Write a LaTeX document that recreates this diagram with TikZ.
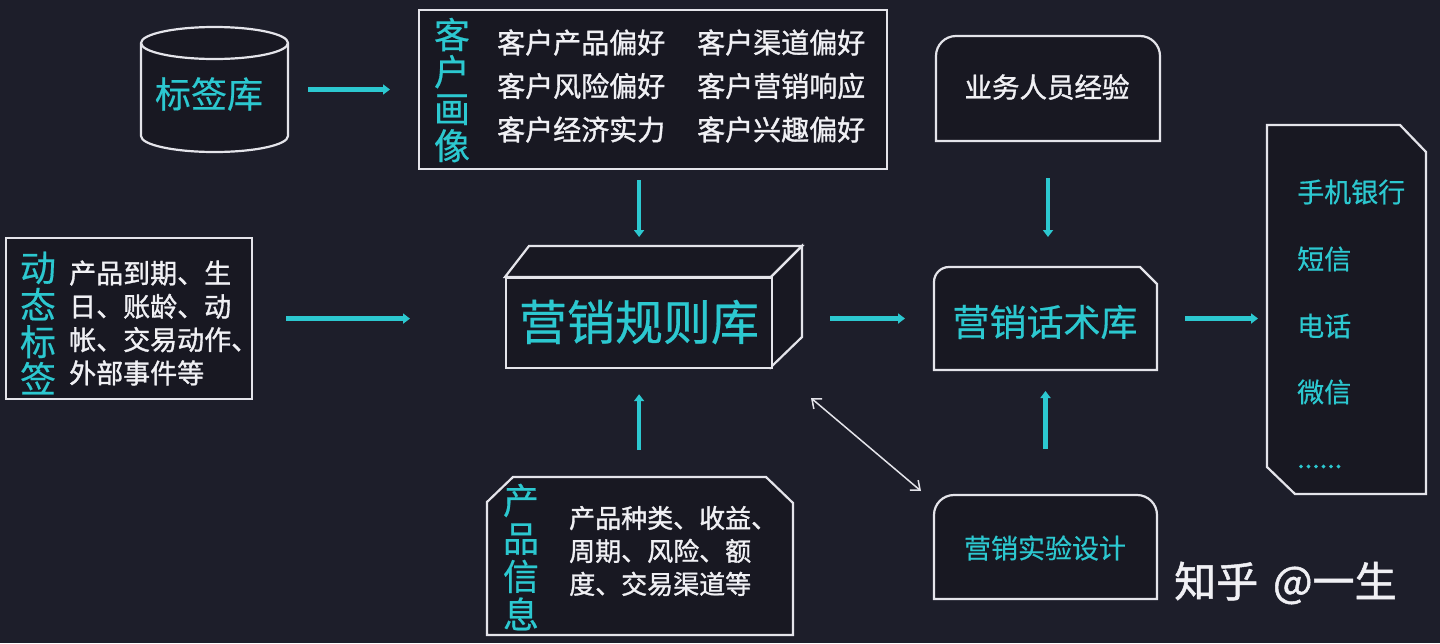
\documentclass[tikz,border=0pt]{standalone}
\usepackage{fontspec}
\setmainfont{Noto Sans CJK SC}
\newfontfamily\wfont{Noto Sans CJK SC}[FakeBold=1.2]
\newfontfamily\cfont{Noto Sans CJK SC}[FakeBold=0.4]
\usetikzlibrary{arrows.meta,calc}
\definecolor{bg}{RGB}{29,30,42}
\definecolor{boxfill}{RGB}{24,24,34}
\definecolor{cy}{RGB}{44,200,208}
\definecolor{edge}{RGB}{228,228,234}
\definecolor{wt}{RGB}{240,240,244}
\tikzset{
  outline/.style={draw=edge, line width=2.2pt, fill=boxfill},
  anchorbox/.style={draw=none, inner sep=0pt, outer sep=0pt},
  cytext/.style={text=cy, inner sep=0pt},
  wtext/.style={text=wt, inner sep=0pt},
  cyarrow/.style={draw=cy, line width=4.5pt, -{Triangle[length=7pt,width=10pt]}},
  dblarrow/.style={draw=edge, line width=1.5pt, {Straight Barb[length=8pt,width=13pt]}-{Straight Barb[length=8pt,width=13pt]}}
}
\newcommand{\fs}[2]{\fontsize{#1}{#2}\selectfont\cfont}
\newcommand{\fw}[2]{\fontsize{#1}{#2}\selectfont\wfont}
\begin{document}
\begin{tikzpicture}[x=1pt,y=-1pt]
\fill[bg] (0,0) rectangle (1440,643);
\useasboundingbox (0,0) rectangle (1440,643);

% ---------- cylinder 标签库
\draw[outline] (141,43) -- (141,136) arc[start angle=180,end angle=0,x radius=73.5,y radius=16]
  -- (288,43) arc[start angle=0,end angle=-180,x radius=73.5,y radius=16] -- cycle;
\draw[draw=edge, line width=2.2pt] (141,43) arc[start angle=180,end angle=0,x radius=73.5,y radius=16];
\node[anchorbox, minimum width=147pt, minimum height=125pt] (cyl) at (214.5,89.5) {};
\node[cytext, font=\fs{36}{36}] (cyltext) at (209,94) {标签库};

% ---------- 客户画像
\node[outline, anchor=north west, minimum width=468pt, minimum height=159pt] (portrait) at (418,9) {};
\node[cytext, font=\fs{36}{37}, align=center] (portraitv) at (452,90) {客\\户\\画\\像};
\node[wtext, anchor=west, align=left, font=\fw{28}{43.5}] (pcol1) at (497,86) {客户产品偏好\\客户风险偏好\\客户经济实力};
\node[wtext, anchor=west, align=left, font=\fw{28}{43.5}] (pcol2) at (697,86) {客户渠道偏好\\客户营销响应\\客户兴趣偏好};

% ---------- 动态标签
\node[outline, anchor=north west, minimum width=246pt, minimum height=161pt] (dyn) at (5,237) {};
\node[cytext, font=\fs{36}{37}, align=center] (dynv) at (38,323) {动\\态\\标\\签};
\node[wtext, anchor=west, align=left, font=\fw{27}{33.3}] (dyntext) at (69,323) {产品到期、生\\日、账龄、动\\帐、交易动作、\\外部事件等};

% ---------- 营销规则库 (3D box)
\draw[outline] (505,277) -- (529,246) -- (802,246) -- (771,277) -- cycle;
\draw[outline] (771,277) -- (802,246) -- (802,337) -- (771,367) -- cycle;
\node[outline, anchor=north west, minimum width=266pt, minimum height=90pt] (rule) at (505,277) {};
\node[cytext, font=\fs{48}{48}] (ruletext) at (639,322) {营销规则库};

% ---------- 业务人员经验
\draw[outline] (936,141) -- (936,56) arc[start angle=180,end angle=270,radius=20] -- (1140,36)
  arc[start angle=270,end angle=360,radius=20] -- (1160,141) -- cycle;
\node[anchorbox, minimum width=224pt, minimum height=105pt] (exp) at (1048,88.5) {};
\node[wtext, font=\fw{27.5}{27.5}] (exptext) at (1047,87) {业务人员经验};

% ---------- 营销话术库
\draw[outline] (934,370) -- (934,282) arc[start angle=180,end angle=270,radius=15] -- (1140,267)
  -- (1157,284) -- (1157,370) -- cycle;
\node[anchorbox, minimum width=223pt, minimum height=103pt] (huashu) at (1045.5,318.5) {};
\node[cytext, font=\fs{37}{37}] (huashutext) at (1045,322) {营销话术库};

% ---------- 营销实验设计
\draw[outline] (934,599) -- (934,515) arc[start angle=180,end angle=270,radius=20] -- (1137,495)
  arc[start angle=270,end angle=360,radius=20] -- (1157,599) -- cycle;
\node[anchorbox, minimum width=223pt, minimum height=104pt] (design) at (1045.5,547) {};
\node[cytext, font=\fs{27}{27}] (designtext) at (1045,548) {营销实验设计};

% ---------- 渠道
\draw[outline] (1267,125) -- (1400,125) -- (1426,152) -- (1426,494) -- (1295,494) -- (1267,467) -- cycle;
\node[anchorbox, minimum width=159pt, minimum height=369pt] (channel) at (1346.5,309.5) {};
\node[cytext, anchor=west, font=\fs{27}{27}] (ch1) at (1297,192) {手机银行};
\node[cytext, anchor=west, font=\fs{27}{27}] (ch2) at (1297,259) {短信};
\node[cytext, anchor=west, font=\fs{27}{27}] (ch3) at (1297,326) {电话};
\node[cytext, anchor=west, font=\fs{27}{27}] (ch4) at (1297,392) {微信};
\node[cytext, anchor=base west, font=\fs{27}{27}] (ch5) at (1297,468) {......};

% ---------- 产品信息
\draw[outline] (487,635) -- (487,502) -- (513,477) -- (766,477) -- (793,503) -- (793,635) -- cycle;
\node[anchorbox, minimum width=306pt, minimum height=158pt] (product) at (640,556) {};
\node[cytext, font=\fs{36}{38}, align=center] (productv) at (521,557) {产\\品\\信\\息};
\node[wtext, anchor=west, align=left, font=\fw{26}{33}] (producttext) at (569,551) {产品种类、收益、\\周期、风险、额\\度、交易渠道等};

% ---------- watermark
\node[wtext, anchor=west, font=\fw{42}{42}] (mark) at (1174,583) {知乎\hspace{0.35em}@一生};

% ---------- connectors
\draw[cyarrow, shorten <=20pt, shorten >=28pt] (cyl.east) -- (cyl.east -| portrait.west);
\draw[cyarrow, shorten <=10pt, shorten >=40pt] (rule.north |- portrait.south) -- (rule.north);
\draw[cyarrow, shorten <=33pt, shorten >=95pt] (dyn.east) -- (dyn.east -| rule.west);
\draw[cyarrow, shorten <=27pt, shorten >=25pt] (rule.south |- product.north) -- (rule.south);
\draw[cyarrow, shorten <=57pt, shorten >=29pt] (rule.east |- huashu.west) -- (huashu.west);
\draw[cyarrow, shorten <=37pt, shorten >=30pt] (exp.south) -- (exp.south |- huashu.north);
\draw[cyarrow, shorten <=46pt, shorten >=21pt] (design.north) -- (huashu.south);
\draw[cyarrow, shorten <=28pt, shorten >=9pt] (huashu.east) -- (huashu.east -| channel.west);
\coordinate (d1) at (811,398);
\coordinate (d2) at (921,491);
\draw[dblarrow] (d1) -- (d2);
\end{tikzpicture}
\end{document}
